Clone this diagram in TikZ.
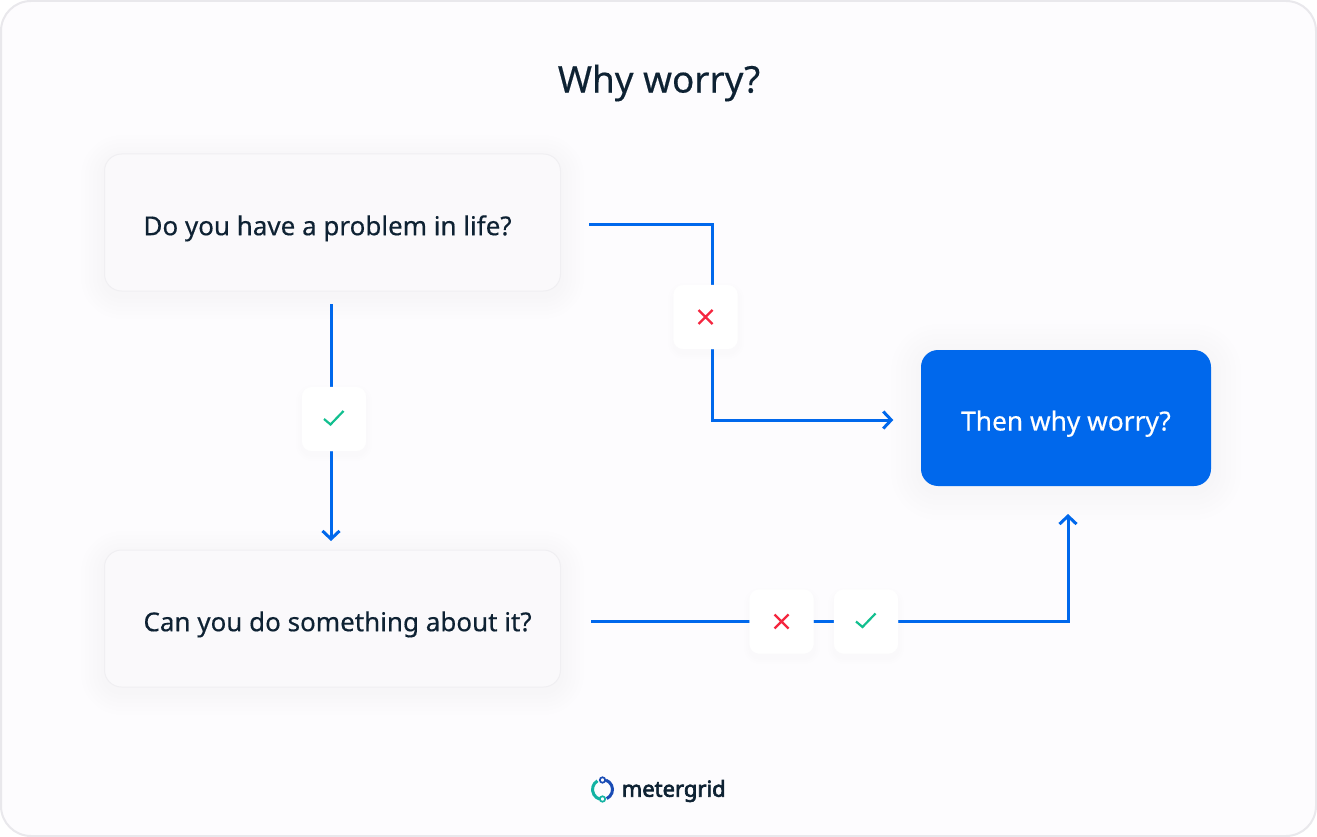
\documentclass[tikz,border=0pt]{standalone}
\usepackage{fontspec}
\setmainfont{Noto Sans}
\newfontfamily\medf[FakeBold=0.4]{Noto Sans}
\newfontfamily\logof[FakeBold=3]{Noto Sans}
\usetikzlibrary{arrows.meta}
\definecolor{frameline}{HTML}{E9E8EC}
\definecolor{framefill}{HTML}{FDFCFE}
\definecolor{boxfill}{HTML}{FAF9FB}
\definecolor{boxline}{HTML}{F0EFF2}
\definecolor{ink}{HTML}{0E2233}
\definecolor{flow}{HTML}{0068EC}
\definecolor{crossred}{HTML}{F5263F}
\definecolor{tickgreen}{HTML}{12BF8F}
\definecolor{logoteal}{HTML}{13B2A2}
\definecolor{logoblue}{HTML}{1A4CB5}
\tikzset{
  x=1pt,y=-1pt,
  question/.style={draw=boxline,line width=1pt,fill=boxfill,rounded corners=17pt,minimum width=456pt,minimum height=137pt,inner sep=0pt,text=ink,font=\medf\fontsize{26}{30}\selectfont},
  answer/.style={fill=flow,rounded corners=17pt,minimum width=290pt,minimum height=136pt,inner sep=0pt,text=white,font=\medf\fontsize{26.3}{30}\selectfont},
  badge/.style={fill=white,draw=white,rounded corners=10pt,minimum size=64pt,inner sep=0pt},
  flowline/.style={draw=flow,line width=3pt,line join=miter},
  flowarrow/.style={flowline,-{Straight Barb[length=8pt,width=17pt,line width=3pt]}},
  softshadow/.style={fill=black,opacity=0.005},
  crossmark/.style={draw=crossred,line width=2.2pt},
  tickmark/.style={draw=tickgreen,line width=2.2pt}
}
\newcommand{\softbox}[7]{% x0 y0 x1 y1 step layers radius
  \foreach \s in {1,...,#6}{
    \pgfmathsetmacro{\ds}{#5*\s}
    \pgfmathsetmacro{\rr}{#7+\ds}
    \fill[softshadow,rounded corners=\rr pt] ({#1-\ds},{#2-\ds+4}) rectangle ({#3+\ds},{#4+\ds+4});
  }
}
\newcommand{\qtext}[1]{\raisebox{-12.7pt}[0pt][0pt]{\makebox[378pt][l]{#1}}}
\begin{document}
\begin{tikzpicture}
\useasboundingbox (0,0) rectangle (1317,837);
\fill[white] (0,0) rectangle (1317,837);
\draw[frameline,fill=framefill,line width=2pt,rounded corners=30pt] (1,1) rectangle (1316,836);

\node[text=ink,font=\medf\fontsize{36.8}{42}\selectfont] (title) at (659,83) {Why worry?};

% soft shadows
\softbox{105}{155}{560}{291}{4}{6}{17}
\softbox{105}{551}{560}{687}{4}{6}{17}
\softbox{921}{350}{1211}{486}{5}{6}{17}
\softbox{674}{285}{738}{349}{2}{3}{10}
\softbox{302}{387}{366}{451}{2}{3}{10}
\softbox{750}{590}{814}{654}{2}{3}{10}
\softbox{834}{590}{898}{654}{2}{3}{10}

\node[question] (q1) at (332.5,222.5) {\qtext{Do you have a problem in life?}};
\node[question] (q2) at (332.5,618.5) {\qtext{Can you do something about it?}};
\node[answer] (ans) at (1066,418) {\raisebox{-12.5pt}[0pt][0pt]{Then why worry?}};

\coordinate (e1) at (712,225);
\coordinate (e2) at (712,420);
\coordinate (e3) at (1068,621);
\coordinate (s1) at ([xshift=28pt,yshift=-2.5pt]q1.east);
\coordinate (t1) at ([xshift=-27.5pt,yshift=-2pt]ans.west);
\coordinate (s2) at (331,304);
\coordinate (t2) at (331,541);
\coordinate (s3) at ([xshift=30pt,yshift=-2.5pt]q2.east);
\coordinate (t3) at (1068,514);

\draw[flowarrow] (s1) -- (e1) -- (e2) -- (t1);
\draw[flowarrow] (s2) -- (t2);
\draw[flowarrow] (s3) -- (e3) -- (t3);

\node[badge] (b1) at (705.5,317) {};
\node[badge] (b2) at (334,419) {};
\node[badge] (b3) at (781.5,621.5) {};
\node[badge] (b4) at (866,621.5) {};

\draw[crossmark] ([shift={(-7,-7)}]b1.center) -- ([shift={(7,7)}]b1.center) ([shift={(-7,7)}]b1.center) -- ([shift={(7,-7)}]b1.center);
\draw[crossmark] ([shift={(-7,-7)}]b3.center) -- ([shift={(7,7)}]b3.center) ([shift={(-7,7)}]b3.center) -- ([shift={(7,-7)}]b3.center);
\draw[tickmark] ([shift={(-10,0)}]b2.center) -- ([shift={(-3.5,5.5)}]b2.center) -- ([shift={(9.5,-8)}]b2.center);
\draw[tickmark] ([shift={(-10,0)}]b4.center) -- ([shift={(-3.5,5.5)}]b4.center) -- ([shift={(9.5,-8)}]b4.center);

% logo
\node[text=ink,font=\logof\fontsize{22}{28}\selectfont,anchor=west,inner sep=0pt] (brand) at (621.5,791) {metergrid};
\coordinate (lg) at (602.5,789.5);
\draw[logoteal,line width=3pt] ([shift={(120:10pt)}]lg) arc[start angle=120,end angle=255,radius=10pt];
\draw[logoblue,line width=3pt] ([shift={(70:10pt)}]lg) arc[start angle=70,end angle=-65,radius=10pt];
\draw[logoblue,line width=1.7pt,fill=framefill] ([shift={(0,-9.5)}]lg) circle[radius=2.7pt];
\draw[logoteal,line width=1.7pt,fill=framefill] ([shift={(0,9.5)}]lg) circle[radius=2.7pt];
\end{tikzpicture}
\end{document}
